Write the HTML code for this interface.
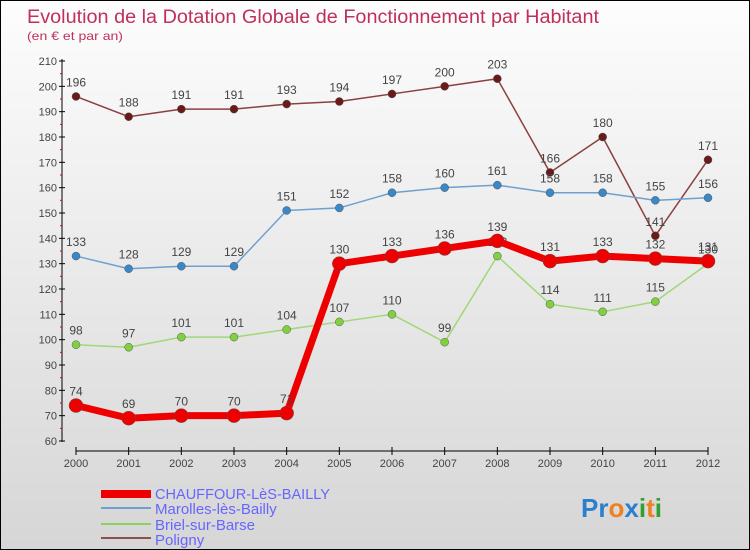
<!DOCTYPE html>
<html><head><meta charset="utf-8"><style>
body{margin:0;}
#c{width:750px;height:550px;position:relative;box-sizing:border-box;border:1px solid #000;background:linear-gradient(#fdfdfd,#d6d6d6);overflow:hidden;font-family:"Liberation Sans",sans-serif;}
</style></head><body>
<div id="c">
<svg id="s" width="750" height="550" style="position:absolute;left:0;top:0">
<text x="26" y="22" font-size="19" fill="#c0305a" textLength="572" lengthAdjust="spacingAndGlyphs">Evolution de la Dotation Globale de Fonctionnement par Habitant</text>
<text x="26" y="39" font-size="12" fill="#c0305a" textLength="96" lengthAdjust="spacingAndGlyphs">(en € et par an)</text>
<line x1="61" y1="58" x2="61" y2="441" stroke="#000"/>
<line x1="75" y1="450" x2="707" y2="450" stroke="#000"/>
<g id="ax"></g><g id="series"></g>
<g>
<rect x="100" y="489" width="50" height="8" fill="#ee0000"/>
<text x="154" y="498" font-size="15" fill="#6666ff" textLength="175" lengthAdjust="spacingAndGlyphs">CHAUFFOUR-LèS-BAILLY</text>
<line x1="100" y1="507" x2="150" y2="507" stroke="#6fa0d0" stroke-width="2"/>
<text x="154" y="513" font-size="15" fill="#6666ff">Marolles-lès-Bailly</text>
<line x1="100" y1="523" x2="150" y2="523" stroke="#90d060" stroke-width="2"/>
<text x="154" y="529" font-size="15" fill="#6666ff">Briel-sur-Barse</text>
<line x1="100" y1="537" x2="150" y2="537" stroke="#8b5050" stroke-width="2"/>
<text x="154" y="544" font-size="15" fill="#6666ff">Poligny</text>
</g>
<text x="580" y="516" font-size="26" font-weight="bold"><tspan fill="#2a7fd0">Pr</tspan><tspan fill="#f08020">o</tspan><tspan fill="#2a7fd0">x</tspan><tspan fill="#30a030">i</tspan><tspan fill="#f08020">t</tspan><tspan fill="#30a030">i</tspan></text>
</svg>
</div>
<script>
const years=[2000,2001,2002,2003,2004,2005,2006,2007,2008,2009,2010,2011,2012];
const yTicks=[60,70,80,90,100,110,120,130,140,150,160,170,180,190,200,210];
const poligny=[196,188,191,191,193,194,197,200,203,166,180,141,171];
const marolles=[133,128,129,129,151,152,158,160,161,158,158,155,156];
const briel=[98,97,101,101,104,107,110,99,133,114,111,115,130];
const chauffour=[74,69,70,70,71,130,133,136,139,131,133,132,131];
const NS="http://www.w3.org/2000/svg";
const X=i=>75+i*(707-75)/(years.length-1);
const Y=v=>440-(v-60)*(380/150);
function mk(t,a,p){const e=document.createElementNS(NS,t);for(const k in a)e.setAttribute(k,a[k]);p.appendChild(e);return e;}
const ax=document.getElementById('ax');
yTicks.forEach(v=>{
 const l=mk('line',{x1:58,x2:64,y1:Y(v),y2:Y(v),stroke:'#000'},ax);
 
 
 const t=mk('text',{x:56,y:Y(v)+4,'font-size':11,fill:'#444','text-anchor':'end'},ax);
 
 
 t.textContent=v;
 if(v<210){const m=mk('line',{x1:59,x2:61,y1:Y(v+5),y2:Y(v+5),stroke:'#e00'},ax);
 
 }
});
years.forEach((yr,i)=>{
 const l=mk('line',{x1:X(i),x2:X(i),y1:446,y2:454,stroke:'#000'},ax);
 
 
 const t=mk('text',{x:X(i),y:466,'font-size':11,fill:'#444','text-anchor':'middle'},ax);
 
 
 t.textContent=yr;
});
const sg=document.getElementById('series');
function series(data,name,color,w,r,dot){
 const g=mk('g',{},sg);
 
 
 const p=mk('polyline',{points:data.map((v,i)=>X(i)+','+Y(v)).join(' '),fill:'none',stroke:color,'stroke-width':w,'stroke-linejoin':'round'},g);
 
 
 data.forEach((v,i)=>{
  const c=mk('circle',{cx:X(i),cy:Y(v),r:r,fill:dot,stroke:'#555','stroke-width':0.5},g);
  
  
  const t=mk('text',{x:X(i),y:Y(v)-10,'font-size':12,fill:'#444','text-anchor':'middle'},g);
  
  
  t.textContent=v;
 });
}
series(poligny,'poligny','#8b4040',1.5,4,'#6b1a1a');
series(marolles,'marolles','#6fa0d0',1.5,4,'#3a88c8');
series(briel,'briel','#a0d878',1.5,4,'#80d040');
series(chauffour,'chauffour','#ee0000',7,7,'#ee0000');
</script>
</body></html>
